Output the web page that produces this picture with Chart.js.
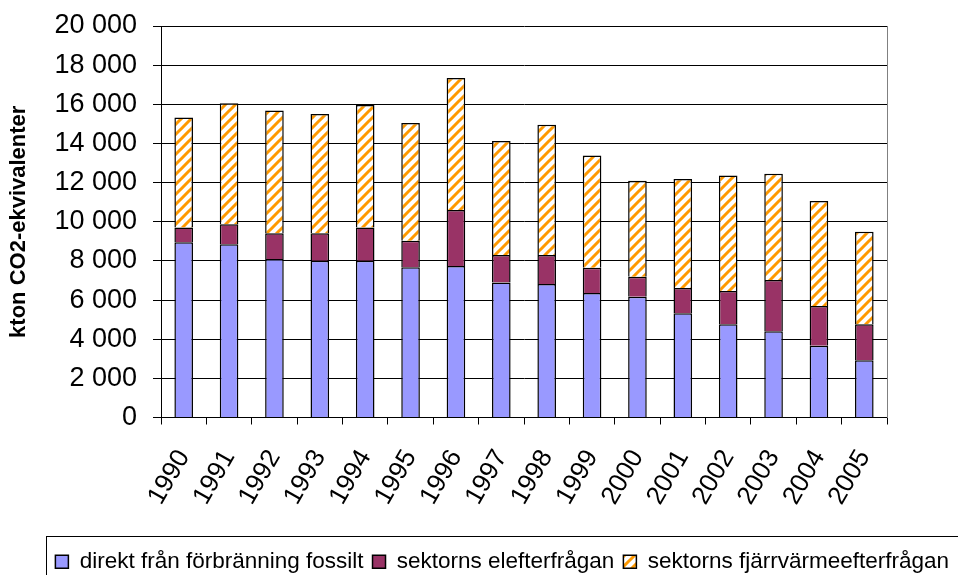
<!DOCTYPE html>
<html>
<head>
<meta charset="utf-8">
<script src="https://cdn.jsdelivr.net/npm/chart.js@4/dist/chart.umd.min.js"></script>
<style>
  html, body { margin: 0; padding: 0; background: #fff; }
  #wrap { width: 958px; height: 575px; position: relative; }
</style>
</head>
<body>
<div id="wrap"><canvas id="chart"></canvas></div>
<script>
const years = ["1990", "1991", "1992", "1993", "1994", "1995", "1996", "1997",
  "1998", "1999", "2000", "2001", "2002", "2003", "2004", "2005"];
const fossilt = [8950, 8850, 8100, 8010, 8010, 7670, 7740, 6900, 6820, 6360, 6170, 5330, 4770, 4410, 3660, 2930];
const elefterfragan = [750, 1020, 1310, 1400, 1690, 1360, 2860, 1400, 1480, 1290, 1020, 1280, 1690, 2610, 2030, 1840];
const fjarrvarme = [5620, 6190, 6270, 6100, 6260, 6020, 6740, 5820, 6650, 5730, 4900, 5580, 5900, 5430, 5370, 4720];
const seriesNames = ["direkt från förbränning fossilt", "sektorns elefterfrågan", "sektorns fjärrvärmeefterfrågan"];
const yTicks = [0, 2000, 4000, 6000, 8000, 10000, 12000, 14000, 16000, 18000, 20000];

const FONT = "'Liberation Sans', Arial, sans-serif";

// diagonal orange/white stripes
function makeHatch() {
  const c = document.createElement("canvas");
  c.width = 10;
  c.height = 10;
  const g = c.getContext("2d");
  g.fillStyle = "#ffffff";
  g.fillRect(0, 0, 10, 10);
  g.strokeStyle = "#ff9900";
  g.lineWidth = 3;
  g.beginPath();
  g.moveTo(-2, 12); g.lineTo(12, -2);
  g.moveTo(-2, 2); g.lineTo(2, -2);
  g.moveTo(8, 12); g.lineTo(12, 8);
  g.stroke();
  return g.createPattern(c, "repeat");
}

const fmt = (v) => String(v).replace(/\B(?=(\d{3})+(?!\d))/g, " ");

const legendFrame = {
  id: "legendFrame",
  afterDraw(chart) {
    const boxes = chart.legend.legendHitBoxes;
    if (!boxes || !boxes.length) return;
    const ctx = chart.ctx;
    ctx.save();
    ctx.strokeStyle = "#000";
    ctx.lineWidth = 1;
    const left = Math.round(boxes[0].left - 9) + 0.5;
    const top = Math.round(boxes[0].top - 15) + 0.5;
    ctx.strokeRect(left, top, chart.width + 20 - left, 60);
    ctx.restore();
  }
};

const ctx = document.getElementById("chart").getContext("2d");
new Chart(ctx, {
  type: "bar",
  data: {
    labels: years,
    datasets: [
      {
        label: seriesNames[0],
        data: fossilt,
        backgroundColor: "#9999ff",
        borderColor: "#000",
        borderWidth: 1.5,
      },
      {
        label: seriesNames[1],
        data: elefterfragan,
        backgroundColor: "#993366",
        borderColor: "#000",
        borderWidth: 1.5,
      },
      {
        label: seriesNames[2],
        data: fjarrvarme,
        backgroundColor: makeHatch(),
        borderColor: "#000",
        borderWidth: 1.5,
      },
    ],
  },
  options: {
    responsive: true,
    maintainAspectRatio: false,
    animation: false,
    layout: { padding: { top: 26, left: 0, right: 0, bottom: -8 } },
    datasets: {
      bar: { barPercentage: 0.41, categoryPercentage: 1 },
    },
    plugins: {
      tooltip: { enabled: false },
      legend: {
        position: "bottom",
        align: "end",
        labels: {
          color: "#000",
          font: { family: FONT, size: 22.5 },
          boxWidth: 13,
          boxHeight: 13,
          padding: 9,
        },
      },
    },
    scales: {
      x: {
        stacked: true,
        grid: {
          offset: true,
          drawOnChartArea: false,
          color: "#000",
          tickLength: 7,
          tickColor: "#000",
        },
        border: { color: "#000", width: 1 },
        ticks: {
          color: "#000",
          font: { family: FONT, size: 26 },
          minRotation: 60,
          maxRotation: 60,
          padding: 20,
        },
        afterFit(scale) {
          scale.height = 124;
        },
      },
      y: {
        stacked: true,
        min: 0,
        max: 20000,
        afterBuildTicks(scale) {
          scale.ticks = yTicks.map((v) => ({ value: v }));
        },
        grid: { color: "#000", tickLength: 8, tickColor: "#000" },
        border: { color: "#000", width: 1 },
        ticks: {
          color: "#000",
          font: { family: FONT, size: 27 },
          padding: 16,
          callback: (v) => fmt(v),
        },
        title: {
          display: true,
          text: "kton CO2-ekvivalenter",
          color: "#000",
          font: { family: FONT, size: 22, weight: "bold" },
          padding: { top: 6, bottom: 0 },
        },
        afterFit(scale) {
          scale.width = 161;
          scale.paddingTop = 0;
          scale.paddingBottom = 0;
        },
      },
      yRight: {
        position: "right",
        min: 0,
        max: 20000,
        grid: { display: false, drawTicks: false },
        ticks: { display: false },
        border: { color: "#808080", width: 1 },
        afterFit(scale) {
          scale.width = 71;
        },
      },
    },
  },
  plugins: [legendFrame],
});
</script>
</body>
</html>
